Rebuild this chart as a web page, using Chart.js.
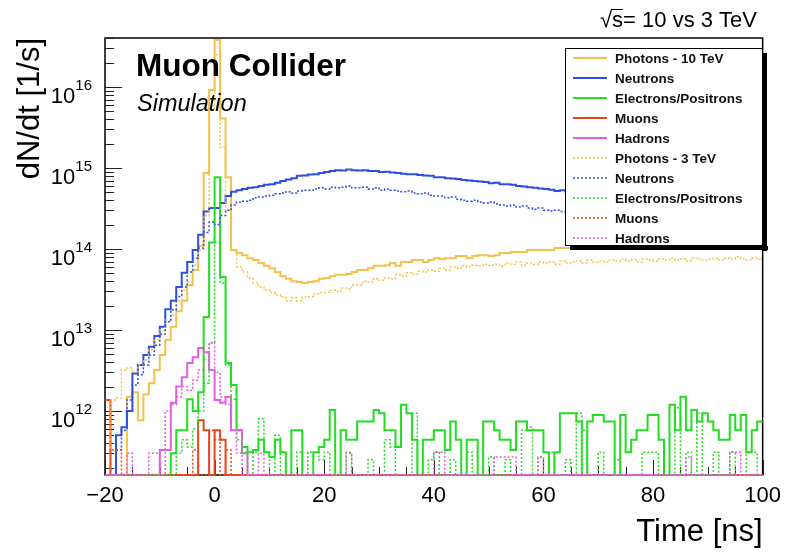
<!DOCTYPE html>
<html>
<head>
<meta charset="utf-8">
<script src="https://cdn.jsdelivr.net/npm/chart.js@4"></script>
<style>
  html, body { margin: 0; padding: 0; background: #fff; }
  #wrap { width: 789px; height: 552px; }
</style>
</head>
<body>
<div id="wrap"><canvas id="myChart" width="789" height="552"></canvas></div>
<script>
// bin low edges (1 ns bins), last entry closes the last bin
var timeEdges = [-20,-19,-18,-17,-16,-15,-14,-13,-12,-11,-10,-9,-8,-7,-6,-5,-4,-3,-2,-1,
  0,1,2,3,4,5,6,7,8,9,10,11,12,13,14,15,16,17,18,19,20,21,22,23,24,25,26,27,28,29,
  30,31,32,33,34,35,36,37,38,39,40,41,42,43,44,45,46,47,48,49,50,51,52,53,54,55,56,57,58,59,
  60,61,62,63,64,65,66,67,68,69,70,71,72,73,74,75,76,77,78,79,80,81,82,83,84,85,86,87,88,89,
  90,91,92,93,94,95,96,97,98,99,100];

// dN/dt [1/s] per bin, 10 TeV (solid)
var photons10 = [0, 0, 0, 0, 1.5e12, 1.7e12, 7.7e11, 1.6e12, 2.2e12, 3.2e12,
  4.9e12, 7.5e12, 1.1e13, 1.7e13, 2.3e13, 3.6e13, 5.5e13, 1.1e14, 8.7e14, 9.2e15,
  3.8e16, 4.1e15, 7.7e14, 9.7e13, 8.9e13, 8.4e13, 7.7e13, 7.3e13, 6.7e13, 6.2e13,
  5.8e13, 5.2e13, 4.6e13, 4.3e13, 4.0e13, 3.9e13, 3.8e13, 3.9e13, 4.0e13, 4.3e13,
  4.4e13, 4.6e13, 4.8e13, 4.8e13, 4.9e13, 5.2e13, 5.5e13, 5.5e13, 5.8e13, 6.2e13,
  6.2e13, 6.3e13, 6.7e13, 6.2e13, 6.9e13, 6.9e13, 7.3e13, 7.3e13, 6.9e13, 7.3e13,
  7.7e13, 7.5e13, 7.7e13, 7.7e13, 8.2e13, 8.2e13, 7.7e13, 8.2e13, 8.4e13, 8.4e13,
  8.2e13, 8.4e13, 8.9e13, 8.9e13, 9.2e13, 9.2e13, 9.2e13, 9.7e13, 9.7e13, 9.7e13,
  9.7e13, 9.7e13, 1.03e14, 1.03e14, 1.03e14, 1.06e14, 1.06e14, 1.06e14, 1.09e14, 1.09e14,
  1.09e14, 1.12e14, 1.12e14, 1.12e14, 1.15e14, 1.15e14, 1.15e14, 1.19e14, 1.19e14, 1.22e14,
  1.22e14, 1.22e14, 1.22e14, 1.26e14, 1.26e14, 1.26e14, 1.29e14, 1.29e14, 1.29e14, 1.29e14,
  1.29e14, 1.33e14, 1.33e14, 1.33e14, 1.37e14, 1.37e14, 1.37e14, 1.37e14, 1.37e14, 1.37e14];

var neutrons10 = [0, 0, 5.0e11, 6.3e11, 1.0e12, 2.9e12, 3.7e12, 4.9e12, 6.2e12, 8.4e12,
  1.1e13, 1.8e13, 2.3e13, 3.4e13, 5.1e13, 6.9e13, 9.7e13, 1.5e14, 2.9e14, 3.2e14,
  3.2e14, 3.7e14, 4.5e14, 5.1e14, 5.3e14, 5.5e14, 5.7e14, 5.8e14, 6.0e14, 6.2e14,
  6.3e14, 6.6e14, 6.9e14, 7.2e14, 7.5e14, 8.0e14, 8.1e14, 8.3e14, 8.4e14, 8.7e14,
  8.9e14, 9.2e14, 9.4e14, 9.3e14, 9.6e14, 9.4e14, 9.3e14, 9.4e14, 9.2e14, 9.2e14,
  8.9e14, 9.0e14, 8.8e14, 8.7e14, 8.5e14, 8.4e14, 8.4e14, 8.2e14, 8.1e14, 8.0e14,
  7.7e14, 7.7e14, 7.5e14, 7.4e14, 7.3e14, 7.1e14, 7.0e14, 6.9e14, 6.8e14, 6.7e14,
  6.5e14, 6.6e14, 6.3e14, 6.3e14, 6.2e14, 6.0e14, 5.9e14, 5.8e14, 5.7e14, 5.6e14,
  5.5e14, 5.4e14, 5.2e14, 5.3e14, 5.1e14, 5.0e14, 4.9e14, 4.8e14, 4.7e14, 4.6e14,
  4.5e14, 4.4e14, 4.4e14, 4.3e14, 4.2e14, 4.1e14, 4.1e14, 4.0e14, 3.9e14, 3.9e14,
  3.9e14, 3.8e14, 3.7e14, 3.7e14, 3.6e14, 3.5e14, 3.5e14, 3.4e14, 3.4e14, 3.3e14,
  3.4e14, 3.3e14, 3.2e14, 3.2e14, 3.1e14, 3.1e14, 3.1e14, 3.0e14, 3.0e14, 3.0e14];

var electrons10 = [0, 0, 0, 0, 0, 0, 0, 0, 0, 0,
  0, 0, 3.0e11, 5.8e11, 5.8e11, 1.4e12, 1.0e12, 1.7e12, 1.45e13, 1.2e14,
  7.7e14, 4.5e13, 3.9e12, 2.1e12, 5.8e11, 3.6e11, 3.1e11, 3.3e11, 4.4e11, 3.1e11,
  2.7e11, 4.4e11, 3.1e11, 0, 5.8e11, 5.8e11, 0, 0, 3.1e11, 3.6e11,
  4.4e11, 1.03e12, 0, 5.8e11, 4.4e11, 4.4e11, 7.4e11, 7.4e11, 7.4e11, 1.03e12,
  9.4e11, 5.8e11, 5.8e11, 3.6e11, 1.19e12, 9.4e11, 4.4e11, 0, 4.4e11, 4.4e11,
  5.8e11, 5.8e11, 3.3e11, 7.4e11, 4.4e11, 0, 4.4e11, 4.4e11, 0, 7.4e11,
  7.4e11, 5.8e11, 4.4e11, 4.4e11, 3.3e11, 7.4e11, 7.4e11, 5.8e11, 5.8e11, 5.8e11,
  3.1e11, 0, 3.1e11, 9.4e11, 9.4e11, 9.4e11, 7.4e11, 0, 7.4e11, 8.9e11,
  8.9e11, 7.4e11, 7.4e11, 0, 8.9e11, 3.1e11, 4.4e11, 5.8e11, 5.8e11, 8.9e11,
  8.9e11, 4.4e11, 0, 1.19e12, 5.8e11, 1.5e12, 5.8e11, 1.03e12, 7.4e11, 9.4e11,
  7.4e11, 5.8e11, 4.4e11, 4.4e11, 8.9e11, 5.8e11, 8.9e11, 3.1e11, 5.8e11, 7.4e11];

var muons10 = [1.37e12, 0, 0, 0, 0, 0, 0, 0, 0, 0,
  0, 0, 0, 0, 0, 0, 0, 7.7e11, 5.8e11, 0,
  5.8e11, 4.4e11, 0, 0, 0, 0, 0, 0, 0, 0,
  0, 0, 0, 0, 0, 0, 0, 0, 0, 0, 0, 0, 0, 0, 0, 0, 0, 0, 0, 0,
  0, 0, 0, 0, 0, 0, 0, 0, 0, 0, 0, 0, 0, 0, 0, 0, 0, 0, 0, 0,
  0, 0, 0, 0, 0, 0, 0, 0, 0, 0, 0, 0, 0, 0, 0, 0, 0, 0, 0, 0,
  0, 0, 0, 0, 0, 0, 0, 0, 0, 0, 0, 0, 0, 0, 0, 0, 0, 0, 0, 0];

var hadrons10 = [0, 0, 0, 0, 0, 0, 0, 0, 0, 0,
  3.3e11, 3.3e11, 1.26e12, 2.0e12, 2.6e12, 3.9e12, 4.6e12, 6.0e12, 5.3e12, 3.2e12,
  1.37e12, 1.26e12, 1.49e12, 5.8e11, 5.8e11, 3.0e11, 0, 0, 0, 0,
  0, 0, 0, 0, 0, 0, 0, 0, 0, 0, 0, 0, 0, 0, 0, 0, 0, 0, 0, 0,
  0, 0, 0, 0, 0, 0, 0, 0, 0, 0, 0, 0, 0, 0, 0, 0, 0, 0, 0, 0,
  0, 0, 0, 0, 0, 0, 0, 0, 0, 0, 0, 0, 0, 0, 0, 0, 0, 0, 0, 0,
  0, 0, 0, 0, 0, 0, 0, 0, 0, 0, 0, 0, 0, 0, 0, 0, 0, 0, 0, 0];

// 3 TeV (dotted)
var photons3 = [0, 1.37e12, 1.45e12, 3.2e12, 3.4e12, 3.0e12, 3.7e12, 4.3e12, 5.7e12, 7.5e12,
  1.0e13, 1.33e13, 1.53e13, 2.3e13, 3.1e13, 3.9e13, 6.3e13, 9.7e13, 2.6e14, 5.2e15,
  2.5e16, 1.8e15, 3.0e14, 9.7e13, 6.0e13, 5.2e13, 4.4e13, 3.8e13, 3.4e13, 3.1e13,
  2.9e13, 2.7e13, 2.55e13, 2.3e13, 2.5e13, 2.3e13, 2.55e13, 2.6e13, 2.8e13, 2.9e13,
  2.9e13, 3.1e13, 3.0e13, 3.3e13, 3.2e13, 3.6e13, 3.6e13, 4.0e13, 3.9e13, 4.3e13,
  4.1e13, 4.4e13, 4.3e13, 4.8e13, 4.6e13, 5.1e13, 4.9e13, 5.3e13, 5.2e13, 5.5e13,
  5.3e13, 5.8e13, 5.5e13, 6.0e13, 5.8e13, 6.2e13, 6.0e13, 6.3e13, 6.2e13, 6.5e13,
  6.3e13, 6.5e13, 6.2e13, 6.7e13, 6.5e13, 6.9e13, 6.3e13, 6.7e13, 6.5e13, 6.9e13,
  6.7e13, 6.9e13, 6.5e13, 7.1e13, 6.7e13, 6.9e13, 7.1e13, 6.7e13, 7.3e13, 6.9e13,
  7.1e13, 6.9e13, 7.3e13, 7.1e13, 7.5e13, 7.1e13, 7.3e13, 6.9e13, 7.5e13, 7.3e13,
  7.1e13, 7.5e13, 7.3e13, 7.7e13, 7.3e13, 7.5e13, 7.1e13, 7.7e13, 7.5e13, 7.3e13,
  7.5e13, 7.7e13, 7.3e13, 7.7e13, 7.5e13, 8.0e13, 7.5e13, 7.3e13, 7.7e13, 7.5e13];

var neutrons3 = [0, 0, 3.3e11, 5.8e11, 1.37e12, 2.1e12, 2.8e12, 3.7e12, 4.9e12, 6.5e12,
  8.9e12, 1.26e13, 1.77e13, 2.6e13, 3.4e13, 5.2e13, 7.7e13, 1.03e14, 1.6e14, 2.15e14,
  2.0e14, 2.6e14, 3.0e14, 3.5e14, 3.8e14, 3.9e14, 4.0e14, 4.3e14, 4.4e14, 4.5e14,
  4.6e14, 4.8e14, 4.9e14, 5.1e14, 4.9e14, 5.2e14, 5.3e14, 5.3e14, 5.5e14, 5.7e14,
  5.5e14, 5.8e14, 5.7e14, 5.8e14, 6.0e14, 5.7e14, 5.7e14, 5.8e14, 5.5e14, 5.7e14,
  5.3e14, 5.5e14, 5.3e14, 5.2e14, 5.1e14, 5.2e14, 4.9e14, 4.8e14, 4.9e14, 4.6e14,
  4.5e14, 4.5e14, 4.3e14, 4.4e14, 4.1e14, 4.0e14, 3.9e14, 4.0e14, 3.8e14, 3.7e14,
  3.8e14, 3.6e14, 3.5e14, 3.4e14, 3.5e14, 3.3e14, 3.4e14, 3.2e14, 3.1e14, 3.2e14,
  3.0e14, 2.94e14, 3.0e14, 2.9e14, 2.8e14, 2.7e14, 2.7e14, 2.6e14, 2.55e14, 2.55e14,
  2.5e14, 2.4e14, 2.4e14, 2.35e14, 2.3e14, 2.3e14, 2.2e14, 2.15e14, 2.15e14, 2.1e14,
  2.1e14, 2.04e14, 2.04e14, 2.0e14, 1.9e14, 1.9e14, 1.87e14, 1.87e14, 1.8e14, 1.8e14,
  1.77e14, 1.77e14, 1.77e14, 1.7e14, 1.7e14, 1.7e14, 1.67e14, 1.67e14, 1.67e14, 1.67e14];

var electrons3 = [0, 0, 0, 0, 0, 0, 0, 0, 0, 0,
  0, 0, 0, 3.0e11, 4.4e11, 3.6e11, 6.0e11, 1.0e12, 2.2e12, 6.9e12,
  1.2e14, 3.8e13, 3.7e12, 1.4e12, 4.4e11, 3.1e11, 0, 3.1e11, 8.0e11, 3.1e11,
  0, 5.0e11, 0, 0, 0, 3.1e11, 0, 3.1e11, 3.1e11, 2.5e11,
  3.1e11, 0, 0, 0, 3.1e11, 0, 0, 0, 2.5e11, 0,
  0, 4.4e11, 3.6e11, 0, 0, 0, 9.4e11, 0, 0, 2.5e11,
  3.1e11, 0, 0, 2.5e11, 0, 0, 3.1e11, 0, 0, 0,
  2.7e11, 0, 0, 2.5e11, 0, 0, 5.8e11, 6.3e11, 0, 2.7e11,
  0, 3.1e11, 0, 0, 2.5e11, 0, 9.4e11, 5.8e11, 0, 0,
  3.1e11, 0, 0, 2.5e11, 0, 0, 0, 0, 3.1e11, 3.1e11,
  3.1e11, 0, 0, 0, 1.1e12, 0, 3.1e11, 0, 9.4e11, 0,
  0, 3.1e11, 0, 0, 3.1e11, 0, 0, 3.1e11, 3.1e11, 0];

var muons3 = [0, 3.3e11, 3.3e11, 0, 0, 0, 0, 0, 0, 0,
  0, 0, 0, 0, 0, 0, 3.3e11, 0, 0, 5.8e11,
  4.4e11, 0, 3.3e11, 0, 0, 0, 0, 0, 0, 0,
  0, 0, 0, 0, 0, 0, 0, 0, 0, 0, 0, 0, 0, 0, 0, 0, 0, 0, 0, 0,
  0, 0, 0, 0, 0, 0, 0, 0, 0, 0, 0, 0, 0, 0, 0, 0, 0, 0, 0, 0,
  0, 0, 0, 0, 0, 0, 0, 0, 0, 0, 0, 0, 0, 0, 0, 0, 0, 0, 0, 0,
  0, 0, 0, 0, 0, 0, 0, 0, 0, 0, 0, 0, 0, 0, 0, 0, 0, 0, 0, 0];

var hadrons3 = [0, 0, 0, 0, 3.0e11, 0, 0, 0, 3.0e11, 3.0e11,
  0, 1.0e12, 1.2e12, 1.5e12, 2.0e12, 1.8e12, 2.4e12, 3.2e12, 4.3e12, 7.0e12,
  3.0e12, 1.5e12, 1.2e12, 5.8e11, 3.0e11, 0, 0, 0, 3.0e11, 0,
  0, 0, 0, 0, 0, 0, 0, 0, 0, 0,
  0, 0, 0, 0, 3.0e11, 0, 0, 0, 0, 0,
  0, 0, 0, 0, 0, 0, 0, 0, 0, 0,
  3.1e11, 3.1e11, 0, 0, 0, 0, 0, 0, 0, 0,
  0, 2.7e11, 2.7e11, 2.7e11, 2.7e11, 0, 0, 0, 0, 2.7e11,
  0, 0, 0, 0, 0, 0, 0, 0, 0, 0,
  0, 0, 0, 0, 0, 0, 0, 0, 0, 0,
  0, 0, 0, 0, 0, 0, 2.7e11, 0, 0, 0,
  0, 0, 0, 0, 3.1e11, 3.1e11, 0, 0, 0, 0];

var xTickLabels = ['\u221220', '0', '20', '40', '60', '80', '100'];
var yTickValues = [1e12, 1e13, 1e14, 1e15, 1e16];
var yTickExponents = ['12', '13', '14', '15', '16'];

var Y_MIN = 1.62e11;
var Y_MAX = 4.03e16;
var FONT = "'Liberation Sans', Arial, Helvetica, sans-serif";

var ORANGE = '#f3c24b', BLUE = '#2e4fe3', GREEN = '#20df20', RED = '#e8461e', MAGENTA = '#e25ee2';

var series = [
  { label: 'Photons - 10 TeV', values: photons10, color: ORANGE, dotted: false },
  { label: 'Neutrons', values: neutrons10, color: BLUE, dotted: false },
  { label: 'Electrons/Positrons', values: electrons10, color: GREEN, dotted: false },
  { label: 'Muons', values: muons10, color: RED, dotted: false },
  { label: 'Hadrons', values: hadrons10, color: MAGENTA, dotted: false },
  { label: 'Photons - 3 TeV', values: photons3, color: ORANGE, dotted: true },
  { label: 'Neutrons', values: neutrons3, color: BLUE, dotted: true },
  { label: 'Electrons/Positrons', values: electrons3, color: GREEN, dotted: true },
  { label: 'Muons', values: muons3, color: RED, dotted: true },
  { label: 'Hadrons', values: hadrons3, color: MAGENTA, dotted: true }
];

// empty bins sit on the bottom of the frame, like ROOT does
function histPoints(values) {
  return timeEdges.map(function (t, i) {
    var v = values[Math.min(i, values.length - 1)];
    return { x: t, y: v > 0 ? v : Y_MIN };
  });
}

var datasets = series.map(function (s, i) {
  return {
    label: s.label,
    data: histPoints(s.values),
    borderColor: s.color,
    backgroundColor: s.color,
    borderWidth: s.dotted ? 1.5 : 2,
    borderDash: s.dotted ? [2, 2] : [],
    stepped: 'before',
    pointRadius: 0,
    fill: false,
    clip: false,
    order: series.length - i
  };
});

// frame + ROOT style inward ticks
var frameTicks = {
  id: 'frameTicks',
  beforeDatasetsDraw: function (chart) {
    var ctx = chart.ctx, a = chart.chartArea, xs = chart.scales.x, ys = chart.scales.y;
    ctx.save();
    ctx.strokeStyle = '#000';
    ctx.lineWidth = 1.5;
    ctx.strokeRect(a.left, a.top, a.right - a.left, a.bottom - a.top);
    ctx.lineWidth = 1;
    ctx.strokeStyle = '#222';
    ctx.beginPath();
    for (var t = xs.min; t <= xs.max; t += 5) {
      var px = Math.round(xs.getPixelForValue(t)) + 0.5;
      var len = (t % 20 === 0) ? 15 : 8;
      ctx.moveTo(px, a.bottom);
      ctx.lineTo(px, a.bottom - len);
    }
    for (var e = 11; e <= 16; e++) {
      for (var k = 1; k <= 9; k++) {
        var v = k * Math.pow(10, e);
        if (v < Y_MIN || v > Y_MAX) continue;
        var py = Math.round(ys.getPixelForValue(v)) + 0.5;
        ctx.moveTo(a.left, py);
        ctx.lineTo(a.left + (k === 1 ? 17 : 9), py);
      }
    }
    ctx.stroke();

    // decade labels 10^n with a raised exponent
    ctx.fillStyle = '#000';
    ctx.textBaseline = 'alphabetic';
    yTickValues.forEach(function (v, i) {
      var py = ys.getPixelForValue(v);
      ctx.font = '15px ' + FONT;
      var ew = ctx.measureText(yTickExponents[i]).width;
      ctx.textAlign = 'left';
      ctx.fillText(yTickExponents[i], 92 - ew, py + 3);
      ctx.font = '22px ' + FONT;
      ctx.textAlign = 'right';
      ctx.fillText('10', 92 - ew, py + 16);
    });
    ctx.restore();
  }
};

// labels and the boxed legend drawn on top of the histograms
var overlay = {
  id: 'overlay',
  afterDatasetsDraw: function (chart) {
    var ctx = chart.ctx;
    ctx.save();
    ctx.fillStyle = '#000';
    ctx.textAlign = 'left';
    ctx.textBaseline = 'alphabetic';
    ctx.font = 'bold 31.5px ' + FONT;
    ctx.fillText('Muon Collider', 136, 76);
    ctx.font = 'italic 23.5px ' + FONT;
    ctx.fillText('Simulation', 137, 111);

    // sqrt(s) label, top right
    ctx.font = '22px ' + FONT;
    var txt = '\u221As= 10 vs 3 TeV';
    var w = ctx.measureText(txt).width;
    var x0 = 757 - w;
    ctx.fillText(txt, x0, 27);
    var wr = ctx.measureText('\u221A').width, wsx = ctx.measureText('s').width;
    ctx.lineWidth = 1;
    ctx.beginPath();
    ctx.moveTo(x0 + wr - 1, 9.5);
    ctx.lineTo(x0 + wr + wsx, 9.5);
    ctx.stroke();

    // legend box with shadow
    var L = 565, T = 48, R = 763, B = 246;
    ctx.fillStyle = '#000';
    ctx.fillRect(L + 5, B, R - L, 4);
    ctx.fillRect(R, T + 5, 4, B - T);
    ctx.fillStyle = '#fff';
    ctx.fillRect(L, T, R - L, B - T);
    ctx.strokeStyle = '#000';
    ctx.lineWidth = 1;
    ctx.strokeRect(L + 0.5, T + 0.5, R - L - 1, B - T - 1);

    ctx.font = 'bold 13.5px ' + FONT;
    ctx.textBaseline = 'middle';
    chart.data.datasets.forEach(function (ds, i) {
      var y = 58 + i * 20;
      ctx.save();
      ctx.strokeStyle = ds.borderColor;
      ctx.lineWidth = ds.borderWidth;
      ctx.setLineDash(ds.borderDash);
      ctx.beginPath();
      ctx.moveTo(573, y);
      ctx.lineTo(607, y);
      ctx.stroke();
      ctx.restore();
      ctx.fillStyle = '#111';
      ctx.fillText(ds.label, 615, y + 1);
    });
    ctx.restore();
  }
};

var ctx = document.getElementById('myChart').getContext('2d');
var myChart = new Chart(ctx, {
  type: 'line',
  data: { datasets: datasets },
  options: {
    responsive: false,
    animation: false,
    devicePixelRatio: 1,
    layout: { padding: { top: 38, right: 21, bottom: 0, left: 0 } },
    plugins: { legend: { display: false }, tooltip: { enabled: false } },
    scales: {
      x: {
        type: 'linear',
        min: -20,
        max: 100,
        grid: { display: false, drawTicks: false },
        border: { display: false },
        afterFit: function (s) { s.height = 77; },
        ticks: {
          stepSize: 20,
          padding: 8,
          maxRotation: 0,
          autoSkip: false,
          color: '#000',
          font: { family: FONT, size: 22 },
          callback: function (v, i) { return xTickLabels[i]; }
        },
        title: {
          display: true,
          text: 'Time [ns]',
          align: 'end',
          color: '#000',
          font: { family: FONT, size: 31 },
          padding: { top: 0, bottom: 1 }
        }
      },
      y: {
        type: 'logarithmic',
        min: Y_MIN,
        max: Y_MAX,
        grid: { display: false, drawTicks: false },
        border: { display: false },
        afterFit: function (s) { s.width = 105; },
        afterBuildTicks: function (s) {
          s.ticks = yTickValues.map(function (v) { return { value: v }; });
        },
        ticks: { display: false },
        title: {
          display: true,
          text: 'dN/dt [1/s]',
          align: 'end',
          color: '#000',
          font: { family: FONT, size: 31 },
          padding: { top: 12, bottom: 0 }
        }
      }
    }
  },
  plugins: [frameTicks, overlay]
});
</script>
</body>
</html>
